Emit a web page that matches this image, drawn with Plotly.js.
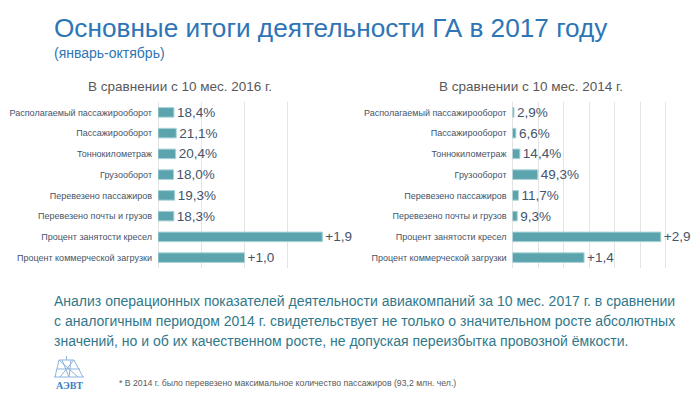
<!DOCTYPE html>
<html>
<head>
<meta charset="utf-8">
<script src="https://cdn.plot.ly/plotly-3.0.1.min.js"></script>
<style>html,body{margin:0;padding:0;background:#fff;}#chart{width:700px;height:394px;}</style>
</head>
<body>
<div id="chart"></div>
<script>
const categories = [
  "Располагаемый пассажирооборот",
  "Пассажирооборот",
  "Тоннокилометраж",
  "Грузооборот",
  "Перевезено пассажиров",
  "Перевезено почты и грузов",
  "Процент занятости кресел",
  "Процент коммерческой загрузки"
];
const values2016 = [0.184, 0.211, 0.204, 0.180, 0.193, 0.183, 1.9, 1.0];
const labels2016 = ["18,4%", "21,1%", "20,4%", "18,0%", "19,3%", "18,3%", "+1,9", "+1,0"];
const values2014 = [0.029, 0.066, 0.144, 0.493, 0.117, 0.093, 2.9, 1.4];
const labels2014 = ["2,9%", "6,6%", "14,4%", "49,3%", "11,7%", "9,3%", "+2,9", "+1,4"];
const paragraphLines = [
  "Анализ операционных показателей деятельности авиакомпаний за 10 мес. 2017 г. в сравнении",
  "с аналогичным периодом 2014 г. свидетельствует не только о значительном росте абсолютных",
  "значений, но и об их качественном росте, не допуская переизбытка провозной ёмкости."
];

const W = 700, H = 394;
const px = x => x / W;
const py = y => 1 - y / H;
const FONT = "Liberation Sans, Arial, sans-serif";
const barColor = "#5BA4AE";

function barTrace(vals, labels, xa, ya) {
  return {
    type: "bar", orientation: "h",
    x: vals, y: categories, text: labels,
    textposition: "outside", constraintext: "none", cliponaxis: false,
    textfont: {family: FONT, size: 13.5, color: "#44546A"},
    marker: {color: barColor, line: {color: "#A9D2D7", width: 1}},
    width: 0.46, hoverinfo: "skip",
    xaxis: xa, yaxis: ya
  };
}

const xCommon = {
  showgrid: true, gridcolor: "#E4E4E4", gridwidth: 1,
  zeroline: true, zerolinecolor: "#E4E4E4", zerolinewidth: 1,
  showticklabels: false, ticks: "", dtick: 0.5, fixedrange: true
};
const yCommon = {
  autorange: "reversed", showgrid: false, zeroline: false, showline: false,
  ticks: "", ticklabelstandoff: 5,
  tickfont: {family: FONT, size: 9, color: "#44546A"}, fixedrange: true
};

const data = [
  barTrace(values2016, labels2016, "x", "y"),
  barTrace(values2014, labels2014, "x2", "y2")
];

function ann(text, x, y, size, color, extra) {
  return Object.assign({
    text: text, xref: "paper", yref: "paper", x: px(x), y: py(y),
    xanchor: "left", yanchor: "middle", showarrow: false, align: "left",
    font: {family: FONT, size: size, color: color}
  }, extra || {});
}

const annotations = [
  ann("Основные итоги деятельности ГА в 2017 году", 52, 28, 26.2, "#2E75B6"),
  ann("(январь-октябрь)", 52, 53, 14, "#2E75B6"),
  ann("В сравнении с 10 мес. 2016 г.", 86, 87, 13.5, "#595959"),
  ann("В сравнении с 10 мес. 2014 г.", 437, 87, 13.5, "#595959"),
  ann("* В 2014 г. было перевезено максимальное количество пассажиров (93,2 млн. чел.)", 117, 383, 8.7, "#595959"),
  ann("<b>АЭВТ</b>", 69, 385, 10, "#3B7DC4",
      {xanchor: "center", font: {family: "Liberation Serif, DejaVu Serif, serif", size: 10, color: "#3B7DC4"}})
];
paragraphLines.forEach((t, i) => annotations.push(ann(t, 52, 301 + i * 20, 14, "#31788A")));

function seg(x0, y0, x1, y1) {
  return {type: "line", xref: "paper", yref: "paper", x0: px(x0), y0: py(y0), x1: px(x1), y1: py(y1),
          line: {color: "#8FB3DC", width: 1}};
}

const layout = {
  width: W, height: H,
  margin: {l: 0, r: 0, t: 0, b: 0},
  paper_bgcolor: "#fff", plot_bgcolor: "rgba(0,0,0,0)",
  showlegend: false,
  xaxis: Object.assign({}, xCommon, {domain: [px(158), px(331)], range: [0, 2], anchor: "y"}),
  yaxis: Object.assign({}, yCommon, {domain: [py(268), py(102)], anchor: "x"}),
  xaxis2: Object.assign({}, xCommon, {domain: [px(512.5), px(691.5)], range: [0, 3.5], anchor: "y2"}),
  yaxis2: Object.assign({}, yCommon, {domain: [py(268), py(102)], anchor: "x2"}),
  annotations: annotations,
  shapes: [
    seg(59, 360, 74, 360),
    seg(66.5, 356, 66.5, 360),
    seg(59, 360, 55, 377),
    seg(74, 360, 83, 377),
    seg(59, 360, 78, 377),
    seg(74, 360, 60, 377),
    seg(62, 360, 69, 377),
    seg(71, 360, 69, 377),
    seg(57, 369, 80, 369),
    seg(54, 377, 84, 377)
  ]
};

Plotly.newPlot("chart", data, layout, {staticPlot: true, displayModeBar: false});
</script>
</body>
</html>
